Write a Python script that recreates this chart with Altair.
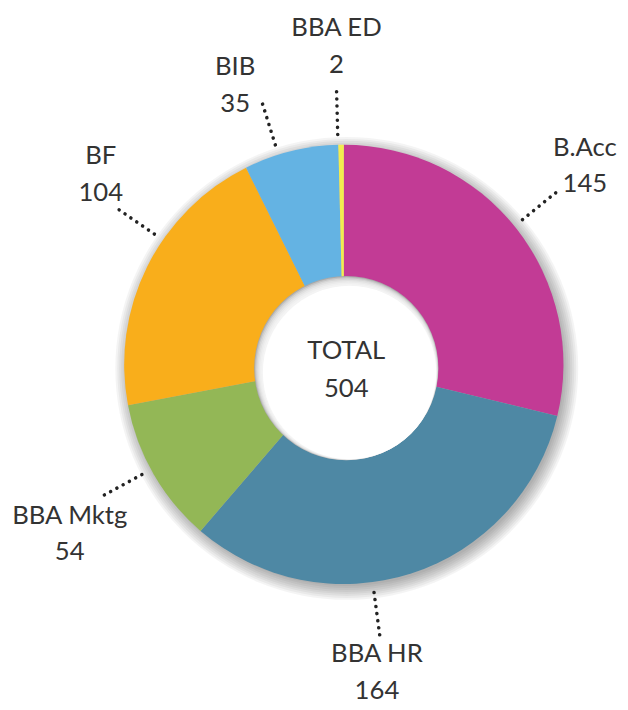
import math
import altair as alt
import pandas as pd

# ---------------- data ----------------
CATEGORIES = ["B.Acc", "BBA HR", "BBA Mktg", "BF", "BIB", "BBA ED"]
VALUES = [145, 164, 54, 104, 35, 2]
COLORS = ["#C23B95", "#4E88A4", "#93B756", "#F9AE1B", "#64B3E3", "#F3EC4F"]
CENTER_TITLE = "TOTAL"

# ---------------- layout (chart pixel space, y measured downward) ----------------
W, H = 620, 702
PIE_CX, PIE_CY, PIE_R = 340.2, 356.5, 222.5
HOLE_CX, HOLE_CY, HOLE_R = 342.7, 360.3, 93.3
FONT = "Lato"
FS = 26
TXT = "#333333"

# leader placement tweaks: (line angle offset deg, label angle offset deg, label radius)
LEADER = {
    "B.Acc": (-0.8, -1.4, 317),
    "BBA HR": (10.3, 11.7, 313),
    "BBA Mktg": (1.4, -1.6, 326),
    "BF": (8.1, 11.7, 313),
    "BIB": (-3.4, -7.3, 304),
    "BBA ED": (-0.8, -0.6, 323),
}
LINE_R0, LINE_R1 = 233, 278

total = sum(VALUES)
slices = pd.DataFrame({"cat": CATEGORIES, "value": VALUES,
                       "order": list(range(len(VALUES))), "color": COLORS})


def polar(r, deg, cx=PIE_CX, cy=PIE_CY):
    a = math.radians(deg)
    # x, and an upward y value for the default (bottom-to-top) y scale
    return cx + r * math.sin(a), H - (cy - r * math.cos(a))


lines, labels = [], []
cum = 0
for c, v in zip(CATEGORIES, VALUES):
    mid = (cum + v / 2) / total * 360
    cum += v
    lo, la, lr = LEADER[c]
    x0, y0 = polar(LINE_R0, mid + lo)
    x1, y1 = polar(LINE_R1, mid + lo)
    lines.append({"cat": c, "x": x0, "y": y0, "x2": x1, "y2": y1})
    lx, ly = polar(lr, mid + la)
    labels.append({"cat": c, "val": str(v), "lx": lx, "ly": ly})
lines = pd.DataFrame(lines)
labels = pd.DataFrame(labels)
center = pd.DataFrame({"cx": [HOLE_CX], "cy": [H - HOLE_CY],
                       "t1": [CENTER_TITLE], "t2": [str(total)]})

xs = alt.Scale(domain=[0, W], nice=False, zero=False)
ys = alt.Scale(domain=[0, H], nice=False, zero=False)


def disk(cx, cy, r, color, op):
    return alt.Chart(center).mark_arc(
        theta=0, theta2=2 * math.pi, outerRadius=r, color=color, opacity=op
    ).encode(x=alt.value(cx), y=alt.value(cy))


# drop shadow of the ring (stacked translucent disks, offset down-right)
shadow_layers = [disk(PIE_CX + 3, PIE_CY + 4, PIE_R + s, "black", 0.045)
                 for s in [12, 10, 8, 6, 4, 2, 0, -2]]

pie = alt.Chart(slices).mark_arc(outerRadius=PIE_R, innerRadius=0).encode(
    theta=alt.Theta("value:Q", stack=True),
    color=alt.Color("color:N", scale=None),
    order=alt.Order("order:Q"),
    x=alt.value(PIE_CX),
    y=alt.value(PIE_CY),
)

# hole with an inner shadow at its top-left
offs = [0.5, 1.2, 2.0, 2.8, 3.6, 4.5, 5.5]
hole_layers = [disk(HOLE_CX, HOLE_CY, HOLE_R, "#a9a9a9", 1.0)] + [
    disk(HOLE_CX + o * 0.6, HOLE_CY + o * 0.8, HOLE_R - o, "#ffffff",
         1.0 if i == len(offs) - 1 else 0.3)
    for i, o in enumerate(offs)
]

leader = alt.Chart(lines).mark_rule(
    color="#222222", strokeWidth=3.6, strokeCap="round", strokeDash=[0.01, 7.2]
).encode(
    x=alt.X("x:Q", scale=xs, axis=None),
    y=alt.Y("y:Q", scale=ys, axis=None),
    x2="x2:Q",
    y2="y2:Q",
)


def txt(df, xf, yf, tf, dy):
    return alt.Chart(df).mark_text(
        font=FONT, fontSize=FS, color=TXT, align="center", baseline="alphabetic", dy=dy
    ).encode(
        x=alt.X(xf, scale=xs, axis=None),
        y=alt.Y(yf, scale=ys, axis=None),
        text=tf,
    )


name_txt = txt(labels, "lx:Q", "ly:Q", "cat:N", -9.5)
val_txt = txt(labels, "lx:Q", "ly:Q", "val:N", 27.5)
c1 = txt(center, "cx:Q", "cy:Q", "t1:N", -9)
c2 = txt(center, "cx:Q", "cy:Q", "t2:N", 29.7)

chart = alt.layer(
    *shadow_layers, pie, *hole_layers, leader, name_txt, val_txt, c1, c2
).properties(
    width=W, height=H, padding=0, background="white",
    autosize=alt.AutoSizeParams(type="none"),
).configure_view(stroke=None)

chart.save("out.html", embed_options={"renderer": "svg", "actions": False})
